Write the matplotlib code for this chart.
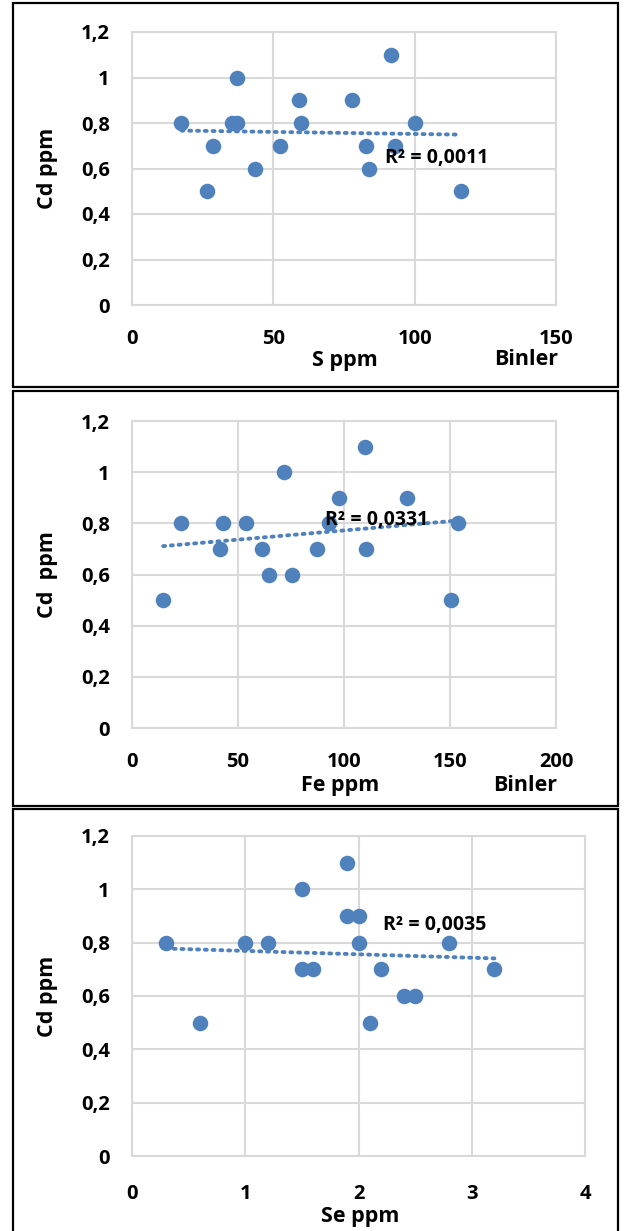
import numpy as np
import matplotlib.pyplot as plt
from matplotlib.patches import Rectangle

plt.rcParams['font.family'] = ['Open Sans', 'DejaVu Sans']
plt.rcParams['font.weight'] = 'bold'

# données
s_ppm = [17.5, 26.5, 28.6, 35.3, 37, 37, 43.4, 52.3, 59.2, 59.7, 77.7, 82.9, 84, 91.7, 93.1, 100, 116.5]
cd_s = [0.8, 0.5, 0.7, 0.8, 1.0, 0.8, 0.6, 0.7, 0.9, 0.8, 0.9, 0.7, 0.6, 1.1, 0.7, 0.8, 0.5]

fe_ppm = [14.7, 23.2, 41.6, 43.1, 53.9, 61.2, 64.6, 71.9, 75.7, 87.2, 93, 97.7, 109.8, 110.4, 129.6, 150.3, 153.9]
cd_fe = [0.5, 0.8, 0.7, 0.8, 0.8, 0.7, 0.6, 1.0, 0.6, 0.7, 0.8, 0.9, 1.1, 0.7, 0.9, 0.5, 0.8]

se_ppm = [0.3, 0.6, 1.0, 1.2, 1.5, 1.5, 1.6, 1.9, 1.9, 2.0, 2.0, 2.1, 2.2, 2.4, 2.5, 2.8, 3.2]
cd_se = [0.8, 0.5, 0.8, 0.8, 1.0, 0.7, 0.7, 1.1, 0.9, 0.9, 0.8, 0.5, 0.7, 0.6, 0.6, 0.8, 0.7]

r2_labels = ['R² = 0,0011', 'R² = 0,0331', 'R² = 0,0035']
x_labels = ['S ppm', 'Fe ppm', 'Se ppm']
y_labels = ['Cd ppm', 'Cd  ppm', 'Cd ppm']
x_ticks = [[0, 50, 100, 150], [0, 50, 100, 150, 200], [0, 1, 2, 3, 4]]
y_ticks = [0, 0.2, 0.4, 0.6, 0.8, 1.0, 1.2]
y_ticklabels = ['0', '0,2', '0,4', '0,6', '0,8', '1', '1,2']

W, H = 624, 1231
bleu = '#4f81bd'
gris = '#d9d9d9'

fig = plt.figure(figsize=(W / 100, H / 100), dpi=100)


def px_box(x0, y0, x1, y1):
    # pixels (origine en haut) -> fraction de figure
    return [x0 / W, 1 - y1 / H, (x1 - x0) / W, (y1 - y0) / H]


axes_px = [(132, 32, 556, 305), (132, 421, 556, 728), (132, 836, 585, 1156)]
cadres_px = [(13, 3, 618, 387), (13, 391, 618, 806), (13, 809, 618, 1240)]
r2_pos = [(89.5, 0.646), (91, 0.813), (2.216, 0.866)]
xlabel_pos = [(0.502, -0.205), (0.49, -0.186), (0.503, -0.19)]
binler_pos = [(0.929, -0.20), (0.927, -0.186), None]
tick_pad = [17, 17, 20]

series = [(s_ppm, cd_s), (fe_ppm, cd_fe), (se_ppm, cd_se)]

for i, (xs, ys) in enumerate(series):
    ax = fig.add_axes(px_box(*axes_px[i]))
    xs = np.array(xs)
    ys = np.array(ys)

    ax.scatter(xs, ys, s=125, color=bleu, zorder=3, linewidths=0)

    # courbe de tendance linéaire
    a, b = np.polyfit(xs, ys, 1)
    xt = np.array([xs.min(), xs.max()])
    ax.plot(xt, a * xt + b, color=bleu, lw=2.8, linestyle=(0, (0.5, 1.5)),
            dash_capstyle='round', zorder=2)

    ax.text(r2_pos[i][0], r2_pos[i][1], r2_labels[i], fontsize=14, fontweight='bold',
            ha='left', va='center', zorder=4)

    ax.set_xlim(x_ticks[i][0], x_ticks[i][-1])
    ax.set_ylim(0, 1.2)
    ax.set_xticks(x_ticks[i])
    ax.set_yticks(y_ticks)
    ax.set_yticklabels(y_ticklabels)
    ax.tick_params(length=0, labelsize=14.5, pad=16)
    ax.tick_params(axis='x', pad=tick_pad[i])
    ax.grid(True, color=gris, lw=1.5)
    ax.set_axisbelow(True)
    for sp in ax.spines.values():
        sp.set_color(gris)
        sp.set_linewidth(1.5)

    ax.set_ylabel(y_labels[i], fontsize=15.5, fontweight='bold')
    ax.yaxis.set_label_coords(-0.175 if i < 2 else -0.164, 0.5)
    ax.text(xlabel_pos[i][0], xlabel_pos[i][1], x_labels[i], transform=ax.transAxes,
            fontsize=15.5, fontweight='bold', ha='center', va='center')
    if binler_pos[i] is not None:
        ax.text(binler_pos[i][0], binler_pos[i][1], 'Binler', transform=ax.transAxes,
                fontsize=15.5, fontweight='bold', ha='center', va='center')

# cadres noirs autour de chaque graphique
for c in cadres_px:
    fig.patches.append(Rectangle((c[0] / W, 1 - c[3] / H), (c[2] - c[0]) / W, (c[3] - c[1]) / H,
                                 transform=fig.transFigure, fill=False, ec='black', lw=1.6))

fig.savefig('out.png', dpi=100)
